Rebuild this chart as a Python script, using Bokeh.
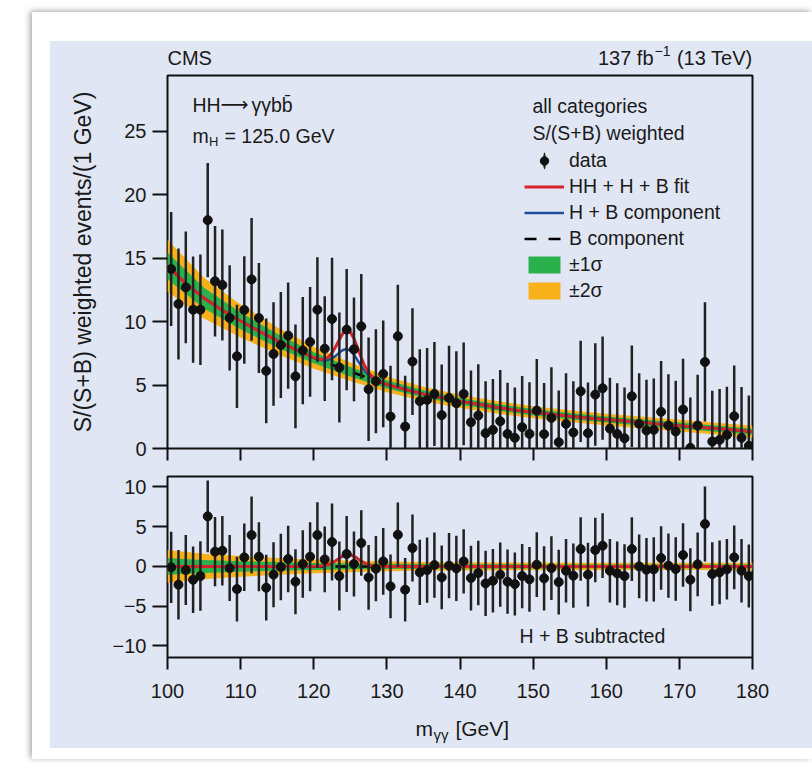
from bokeh.plotting import figure
from bokeh.models import Range1d, FixedTicker, Label, Legend, LegendItem
from bokeh.layouts import column
from bokeh.embed import file_html
from bokeh.resources import INLINE

# ---------------- data ----------------
mgg = [100.5 + i for i in range(80)]  # 1 GeV bin centres

events = [14.15, 11.39, 12.70, 10.94, 10.94, 18.0, 13.18, 12.89, 10.29, 7.27,
          10.92, 13.33, 10.29, 6.12, 7.45, 8.16, 8.90, 5.69, 7.72, 8.40,
          10.94, 7.87, 10.21, 6.38, 9.37, 7.82, 9.63, 4.67, 5.30, 5.88,
          2.52, 8.85, 1.73, 6.85, 3.73, 3.83, 4.30, 2.63, 3.99, 3.57,
          4.30, 2.07, 2.60, 1.21, 1.47, 2.15, 1.15, 0.84, 1.68, 1.15,
          2.99, 1.13, 2.41, 0.50, 1.94, 1.26, 4.51, 1.21, 4.25, 4.75,
          1.57, 1.15, 0.81, 4.12, 1.94, 1.42, 1.47, 2.89, 1.81, 1.34,
          3.07, 0.05, 1.81, 6.82, 0.55, 0.68, 1.07, 2.55, 0.84, 0.21]

errors = [4.49, 4.37, 4.40, 4.19, 4.36, 4.50, 4.36, 4.38, 4.15, 4.07,
          4.24, 4.84, 4.34, 4.13, 4.08, 4.17, 4.19, 4.09, 4.23, 4.33,
          4.13, 4.13, 4.83, 4.34, 4.78, 4.09, 4.13, 4.07, 4.10, 4.20,
          4.00, 4.05, 4.00, 4.20, 4.10, 4.10, 4.10, 4.00, 4.10, 4.10,
          4.05, 4.07, 4.04, 4.10, 4.00, 4.04, 4.04, 3.96, 4.04, 4.07,
          4.07, 4.04, 4.00, 4.07, 4.00, 4.04, 3.99, 4.00, 4.04, 4.07,
          4.00, 4.00, 4.00, 4.00, 4.00, 4.00, 4.04, 4.00, 4.04, 4.00,
          4.00, 3.96, 4.00, 4.70, 4.00, 4.00, 3.80, 4.00, 4.00, 3.96]

residuals = [-0.12, -2.30, -0.46, -1.68, -1.21, 6.29, 1.85, 1.97, -0.21, -2.85,
             1.14, 3.94, 1.22, -2.68, -1.04, -0.08, 0.93, -1.92, 0.30, 1.22,
             3.94, 0.88, 3.07, -1.21, 1.56, 0.30, 2.94, -1.38, -0.29, 0.63,
             -2.51, 3.98, -2.93, 2.31, -0.75, -0.46, 0.17, -1.38, 0.09, -0.25,
             0.63, -1.46, -0.83, -2.14, -1.80, -1.04, -1.92, -2.22, -1.21, -1.63,
             0.21, -1.50, -0.21, -1.97, -0.54, -1.17, 2.18, -1.04, 2.06, 2.60,
             -0.54, -0.88, -1.21, 2.18, 0.00, -0.42, -0.37, 1.05, 0.09, -0.33,
             1.43, -1.68, 0.26, 5.33, -0.96, -0.75, -0.37, 1.14, -0.54, -1.21]

# fit curves
curve_mass = [100, 102.5, 105, 107.5, 110, 112.5, 115, 117.5,
              120, 120.5, 121, 121.5, 122, 122.5, 123, 123.5, 124, 124.5, 125,
              125.5, 126, 126.5, 127, 127.5, 128, 128.5, 129, 129.5, 130,
              132.5, 135, 137.5, 140, 142.5, 145, 147.5, 150, 152.5, 155,
              157.5, 160, 162.5, 165, 167.5, 170, 172.5, 175, 177.5, 180]
bkg = [14.4, 13.0, 11.85, 10.9, 10.05, 9.25, 8.5, 7.8,
       7.15, 7.04, 6.93, 6.82, 6.71, 6.6, 6.49, 6.38, 6.27, 6.16, 6.05,
       5.95, 5.85, 5.75, 5.65, 5.55, 5.45, 5.35, 5.25, 5.15, 5.05,
       4.65, 4.3, 4.0, 3.72, 3.48, 3.25, 3.04, 2.86, 2.7, 2.55,
       2.41, 2.28, 2.16, 2.04, 1.92, 1.8, 1.68, 1.57, 1.45, 1.32]
single_h = [0, 0, 0, 0, 0, 0, 0, 0,
            0.01, 0.02, 0.05, 0.12, 0.27, 0.5, 0.81, 1.18, 1.5, 1.68, 1.66,
            1.44, 1.1, 0.74, 0.44, 0.23, 0.11, 0.04, 0.02, 0.01, 0,
            0, 0, 0, 0, 0, 0, 0, 0, 0, 0,
            0, 0, 0, 0, 0, 0, 0, 0, 0, 0]
hh = [0, 0, 0, 0, 0, 0, 0, 0,
      0.01, 0.02, 0.05, 0.11, 0.23, 0.44, 0.72, 1.04, 1.32, 1.49, 1.47,
      1.27, 0.98, 0.66, 0.39, 0.2, 0.09, 0.04, 0.01, 0, 0,
      0, 0, 0, 0, 0, 0, 0, 0, 0, 0,
      0, 0, 0, 0, 0, 0, 0, 0, 0, 0]

# uncertainty bands (half widths)
band_mass = [100, 105, 110, 115, 120, 125, 130, 135, 140, 145, 150, 155, 160, 165, 170, 175, 180]
one_sigma = [1.05, 0.82, 0.66, 0.54, 0.44, 0.37, 0.32, 0.29, 0.27, 0.26, 0.25, 0.24, 0.24, 0.24, 0.24, 0.24, 0.24]
two_sigma = [2.05, 1.6, 1.3, 1.05, 0.87, 0.72, 0.62, 0.56, 0.52, 0.5, 0.48, 0.47, 0.46, 0.46, 0.46, 0.46, 0.47]

x_ticks = [100, 110, 120, 130, 140, 150, 160, 170, 180]
top_y_ticks = [0, 5, 10, 15, 20, 25]
bot_y_ticks = [-10, -5, 0, 5, 10]

# ---------------- styles ----------------
FONT = "Liberation Sans"
BG = "#e1e6f4"
TXT = "#1a1a1a"
RED = "#d6232c"
BLUE = "#1f4f9e"
GREEN = "#2bb14c"
ORANGE = "#f8b11a"
DATA_C = "#111111"
W = 762
BL, BR = 117, 60

# derived series
bkg_at = dict(zip(curve_mass, bkg))
hb = [b + h for b, h in zip(bkg, single_h)]
full = [b + h + s for b, h, s in zip(bkg, single_h, hh)]
band_c = [bkg_at[m] for m in band_mass]
zero_line = [h - h for h in single_h]


def lab(p, x, y, text, size="19.5px", align="left", baseline="middle", xo=0, yo=0, font=FONT):
    p.add_layout(Label(x=x, y=y, text=text, x_offset=xo, y_offset=yo,
                       text_font=font, text_font_size=size, text_color=TXT,
                       text_align=align, text_baseline=baseline))


def style_axes(p, yticks):
    p.grid.visible = False
    for ax in p.xaxis + p.yaxis:
        ax.axis_line_color = None
        ax.major_tick_line_color = "#111111"
        ax.major_tick_line_width = 2
        ax.minor_tick_line_color = None
        ax.major_tick_in = 0
        ax.major_label_text_font = FONT
        ax.major_label_text_font_size = "20px"
        ax.major_label_text_color = TXT
    p.yaxis.ticker = FixedTicker(ticks=yticks)
    p.yaxis.major_tick_out = 15
    p.yaxis.major_label_standoff = 6


def strip(h):
    # text-only strip sharing the panels' horizontal scale
    s = figure(width=W, height=h, x_range=Range1d(100, 180), y_range=Range1d(0, 1),
               output_backend="svg", toolbar_location=None,
               x_axis_type=None, y_axis_type=None,
               min_border_left=BL, min_border_right=BR, min_border_top=0, min_border_bottom=0,
               background_fill_color=BG, border_fill_color=BG, outline_line_color=None)
    s.grid.visible = False
    return s


# ---------------- header ----------------
head = strip(32)
lab(head, 100, 0.5, "CMS", size="20px")
lab(head, 180, 0.5, "(13 TeV)", size="20px", align="right")
lab(head, 180, 0.5, "\u22121", size="14px", align="right", xo=-82, yo=7)
lab(head, 180, 0.5, "137 fb", size="20px", align="right", xo=-99)

# ---------------- top panel ----------------
top = figure(width=W, height=389, x_range=Range1d(100, 180), y_range=Range1d(0, 29.4),
             output_backend="svg", toolbar_location=None,
             min_border_left=BL, min_border_right=BR, min_border_top=2, min_border_bottom=14,
             background_fill_color=BG, border_fill_color=BG,
             outline_line_color="#111111", outline_line_width=2)
style_axes(top, top_y_ticks)
# ticks only (no labels) on the upper panel's x axis
top.xaxis.ticker = FixedTicker(ticks=[], minor_ticks=x_ticks)
top.xaxis.minor_tick_line_color = "#111111"
top.xaxis.minor_tick_line_width = 2
top.xaxis.minor_tick_in = 0
top.xaxis.minor_tick_out = 12
top.yaxis.axis_label = "S/(S+B) weighted events/(1 GeV)"
top.yaxis.axis_label_text_font = FONT
top.yaxis.axis_label_text_font_size = "23px"
top.yaxis.axis_label_text_font_style = "normal"
top.yaxis.axis_label_text_color = TXT
top.yaxis.axis_label_standoff = 25

r2 = top.varea(x=band_mass, y1=[c - s for c, s in zip(band_c, two_sigma)],
               y2=[c + s for c, s in zip(band_c, two_sigma)], fill_color=ORANGE)
r1 = top.varea(x=band_mass, y1=[c - s for c, s in zip(band_c, one_sigma)],
               y2=[c + s for c, s in zip(band_c, one_sigma)], fill_color=GREEN)
rb = top.line(curve_mass, bkg, line_color="black", line_width=2.5, line_dash="12 12")
rhb = top.line(curve_mass, hb, line_color=BLUE, line_width=2.5)
rfull = top.line(curve_mass, full, line_color=RED, line_width=3)
top.segment(x0=mgg, y0=[v - e for v, e in zip(events, errors)],
            x1=mgg, y1=[v + e for v, e in zip(events, errors)],
            line_color="#222222", line_width=2.5)
# thin vertical ellipse on the first error bar: gives the legend its error-bar stroke
rbar = top.ellipse(x=mgg[:1], y=events[:1], width=2.5, height=15,
                   width_units="screen", height_units="screen",
                   fill_color="#222222", line_color=None)
rdata = top.scatter(mgg, events, size=9, color=DATA_C)

legend = Legend(items=[
    LegendItem(label="data", renderers=[rbar, rdata]),
    LegendItem(label="HH + H + B fit", renderers=[rfull]),
    LegendItem(label="H + B component", renderers=[rhb]),
    LegendItem(label="B component", renderers=[rb]),
    LegendItem(label="\u00b11\u03c3", renderers=[r1]),
    LegendItem(label="\u00b12\u03c3", renderers=[r2]),
], location=(357, 146), glyph_width=40, glyph_height=21, label_height=21,
    spacing=3, padding=0, margin=0, label_standoff=5,
    label_text_font=FONT, label_text_font_size="19.5px", label_text_color=TXT,
    border_line_color=None, background_fill_alpha=0)
top.add_layout(legend, "center")

lab(top, 103.42, 27.11, "HH")
lab(top, 103.42, 27.11, "\u27f6", font="DejaVu Sans", xo=28)
lab(top, 103.42, 27.11, "\u03b3\u03b3bb\u0304", xo=59)
lab(top, 103.42, 24.67, "m")
lab(top, 103.42, 24.67, "H", size="13px", xo=16.5, yo=-6)
lab(top, 103.42, 24.67, "= 125.0 GeV", xo=32)
lab(top, 149.9, 26.96, "all categories")
lab(top, 149.9, 24.85, "S/(S+B) weighted")

# ---------------- bottom panel ----------------
bot = figure(width=W, height=243, x_range=Range1d(100, 180), y_range=Range1d(-11.45, 11.3),
             output_backend="svg", toolbar_location=None,
             min_border_left=BL, min_border_right=BR, min_border_top=14, min_border_bottom=48,
             background_fill_color=BG, border_fill_color=BG,
             outline_line_color="#111111", outline_line_width=2)
style_axes(bot, bot_y_ticks)
bot.xaxis.ticker = FixedTicker(ticks=x_ticks)
bot.xaxis.major_tick_out = 12
bot.xaxis.major_label_standoff = 14
bot.yaxis.major_label_overrides = {-10: "\u221210", -5: "\u22125"}

bot.varea(x=band_mass, y1=[-s for s in two_sigma], y2=two_sigma, fill_color=ORANGE)
bot.varea(x=band_mass, y1=[-s for s in one_sigma], y2=one_sigma, fill_color=GREEN)
bot.line(curve_mass, zero_line, line_color="black", line_width=2.5, line_dash="12 12")
bot.line(curve_mass, hh, line_color=RED, line_width=3)
bot.segment(x0=mgg, y0=[v - e for v, e in zip(residuals, errors)],
            x1=mgg, y1=[v + e for v, e in zip(residuals, errors)],
            line_color="#222222", line_width=2.5)
bot.scatter(mgg, residuals, size=9, color=DATA_C)

lab(bot, 158.1, -8.71, "H + B subtracted", align="center")

# ---------------- footer (x-axis title) ----------------
foot = strip(43)
lab(foot, 133.9, 0.465, "m", size="21px")
lab(foot, 133.9, 0.465, "\u03b3\u03b3", size="15px", xo=18, yo=-6)
lab(foot, 133.9, 0.465, "[GeV]", size="21px", xo=40)

inner = column(head, top, bot, foot, spacing=0, styles={"background-color": BG})
card = column(inner, styles={"background-color": "white",
                             "padding": "29px 0px 11px 18px",
                             "margin-left": "32px", "margin-top": "12px",
                             "box-shadow": "-2px -1px 6px rgba(0,0,0,0.35)"})

open("out.html", "w").write(file_html(card, INLINE))
